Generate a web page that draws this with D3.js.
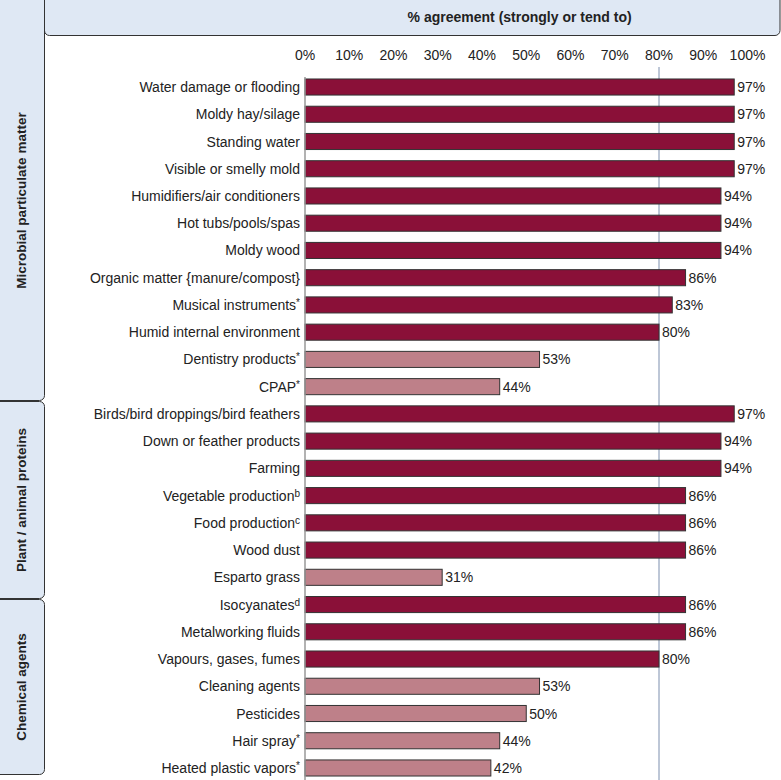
<!DOCTYPE html>
<html>
<head>
<meta charset="utf-8">
<script src="https://cdn.jsdelivr.net/npm/d3@7"></script>
<style>
  body { margin: 0; background: #fff; }
  text { font-family: "Liberation Sans", Arial, Helvetica, sans-serif; fill: #222; }
</style>
</head>
<body>
<svg></svg>
<script>
// categories, top to bottom
const categories = [
    "Water damage or flooding", "Moldy hay/silage", "Standing water", "Visible or smelly mold",
    "Humidifiers/air conditioners", "Hot tubs/pools/spas", "Moldy wood",
    "Organic matter {manure/compost}", "Musical instruments", "Humid internal environment",
    "Dentistry products", "CPAP",
    "Birds/bird droppings/bird feathers", "Down or feather products", "Farming",
    "Vegetable production", "Food production", "Wood dust", "Esparto grass",
    "Isocyanates", "Metalworking fluids", "Vapours, gases, fumes", "Cleaning agents",
    "Pesticides", "Hair spray", "Heated plastic vapors"
];
// superscript marks after each label
const notes = [
    "", "", "", "", "", "", "", "", "*", "", "*", "*",
    "", "", "", "b", "c", "", "",
    "d", "", "", "", "", "*", "*"
];
const values = [
    97, 97, 97, 97, 94, 94, 94, 86, 83, 80, 53, 44,
    97, 94, 94, 86, 86, 86, 31,
    86, 86, 80, 53, 50, 44, 42
];
const groups = ["Microbial particulate matter", "Plant / animal proteins", "Chemical agents"];
const ticks = [0, 10, 20, 30, 40, 50, 60, 70, 80, 90, 100];
const threshold = 80;

function main() {
    const width = 781;
    const height = 780;
    const dark = "#8a1038";
    const light = "#be8089";
    const panelFill = "#dfe8f4";
    const panelStroke = "#333";
    const fs = "14px";

    const svg = d3.select("svg")
        .attr("width", width)
        .attr("height", height);

    const x = d3.scaleLinear().domain([0, 100]).range([305, 747.5]);
    const y = d3.scaleBand()
        .domain(categories)
        .range([73.4, 781.6])
        .paddingInner(0.41)
        .paddingOuter(0.205);

    // header box
    svg.append("rect")
        .attr("x", 44.5).attr("y", -6)
        .attr("width", 735.5).attr("height", 41.5)
        .attr("rx", 5)
        .attr("fill", panelFill)
        .attr("stroke", panelStroke);

    svg.append("text")
        .attr("x", (x(0) + x(97)) / 2)
        .attr("y", 22)
        .attr("text-anchor", "middle")
        .style("font-size", fs)
        .style("font-weight", "bold")
        .text("% agreement (strongly or tend to)");

    // group panels on the left
    const panelEdges = [-6, 401, 599, 775];
    groups.forEach((g, i) => {
        const top = panelEdges[i];
        const bottom = panelEdges[i + 1];
        svg.append("rect")
            .attr("x", -6).attr("y", top + 0.5)
            .attr("width", 50.5).attr("height", bottom - top - 1)
            .attr("rx", 5)
            .attr("fill", panelFill)
            .attr("stroke", panelStroke);
        const cy = (Math.max(top, 0) + bottom) / 2;
        svg.append("text")
            .attr("transform", `translate(26,${cy}) rotate(-90)`)
            .attr("text-anchor", "middle")
            .style("font-size", "13.5px")
            .style("font-weight", "bold")
            .text(g);
    });

    // tick labels on top
    svg.append("g")
        .selectAll("text")
        .data(ticks)
        .enter()
        .append("text")
        .attr("x", d => x(d))
        .attr("y", 60)
        .attr("text-anchor", "middle")
        .style("font-size", fs)
        .text(d => d + "%");

    // 80% reference line
    svg.append("line")
        .attr("x1", x(threshold)).attr("x2", x(threshold))
        .attr("y1", 67).attr("y2", height)
        .attr("stroke", "#7d8fae")
        .attr("stroke-width", 1);

    // bars
    svg.append("g")
        .selectAll("rect")
        .data(categories)
        .enter()
        .append("rect")
        .attr("x", x(0))
        .attr("y", d => y(d))
        .attr("width", (d, i) => x(values[i]) - x(0))
        .attr("height", y.bandwidth())
        .attr("fill", (d, i) => values[i] >= threshold ? dark : light)
        .attr("stroke", "#333")
        .attr("stroke-width", 1);

    // left axis line
    svg.append("line")
        .attr("x1", x(0)).attr("x2", x(0))
        .attr("y1", 77).attr("y2", height)
        .attr("stroke", "#999")
        .attr("stroke-width", 1.5);

    // category labels
    const labels = svg.append("g")
        .selectAll("text")
        .data(categories)
        .enter()
        .append("text")
        .attr("x", 300)
        .attr("y", d => y(d) + y.bandwidth() / 2)
        .attr("dy", "0.36em")
        .attr("text-anchor", "end")
        .style("font-size", fs);
    labels.append("tspan").text(d => d);
    labels.append("tspan")
        .attr("dy", (d, i) => notes[i] ? "-0.4em" : null)
        .style("font-size", "10px")
        .text((d, i) => notes[i]);

    // value labels
    svg.append("g")
        .selectAll("text")
        .data(categories)
        .enter()
        .append("text")
        .attr("x", (d, i) => x(values[i]) + 3)
        .attr("y", d => y(d) + y.bandwidth() / 2)
        .attr("dy", "0.36em")
        .style("font-size", fs)
        .text((d, i) => values[i] + "%");
}

main();
</script>
</body>
</html>
